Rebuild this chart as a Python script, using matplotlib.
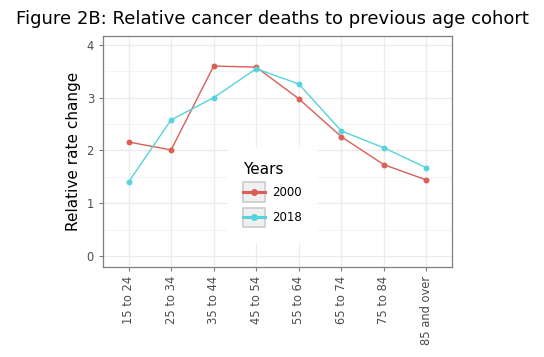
import matplotlib
matplotlib.use("Agg")
import matplotlib.pyplot as plt
from matplotlib.lines import Line2D
from matplotlib.patches import Rectangle
from matplotlib.legend_handler import HandlerBase
import numpy as np

categories = ["15 to 24", "25 to 34", "35 to 44", "45 to 54", "55 to 64",
              "65 to 74", "75 to 84", "85 and over"]
vals_2000 = [2.16, 2.01, 3.60, 3.58, 2.98, 2.26, 1.73, 1.44]
vals_2018 = [1.40, 2.58, 3.00, 3.55, 3.26, 2.37, 2.05, 1.67]
series_names = ["2000", "2018"]
colors = ["#db5f57", "#57d3db"]
yticks = [0, 1, 2, 3, 4]

fig = plt.figure(figsize=(5.44, 3.57), dpi=100)
ax = fig.add_axes([103/544, 1-267/357, (452-103)/544, (267-36)/357])

x = np.arange(len(categories))
for vals, c, name in zip([vals_2000, vals_2018], colors, series_names):
    ax.plot(x, vals, color=c, lw=1.0, zorder=3)
    ax.scatter(x, vals, color=c, s=18, zorder=4, linewidths=0)

ax.set_xlim(-0.6, 7.6)
ax.set_ylim(-0.21, 4.17)
ax.set_xticks(x)
ax.set_xticklabels(categories, rotation=90, fontsize=8.3, color="#4d4d4d")
ax.set_yticks(yticks)
ax.set_yticklabels([str(v) for v in yticks], fontsize=8.3, color="#4d4d4d")
ax.set_yticks(np.arange(0.5, 4.0, 1.0), minor=True)
ax.grid(True, which="major", color="#ebebeb", lw=0.9, zorder=0)
ax.grid(True, which="minor", axis="y", color="#f2f2f2", lw=0.6, zorder=0)
ax.set_axisbelow(True)
ax.tick_params(axis="both", which="major", color="#7f7f7f", length=3, width=0.8)
ax.tick_params(axis="both", which="minor", length=0)
for s in ax.spines.values():
    s.set_color("#7f7f7f")
    s.set_linewidth(0.9)
ax.set_ylabel("Relative rate change", fontsize=11)
fig.text(272/544, 1-19/357,
         "Figure 2B: Relative cancer deaths to previous age cohort",
         fontsize=13, ha="center", va="center")

class KeyHandler(HandlerBase):
    def __init__(self, color):
        super().__init__()
        self.color = color
    def create_artists(self, legend, orig_handle, xdescent, ydescent, width,
                       height, fontsize, trans):
        r = Rectangle((-xdescent, -ydescent), width, height,
                      facecolor="#f0f0f0", edgecolor="#cccccc", lw=1.2,
                      transform=trans)
        ym = -ydescent + height / 2
        l = Line2D([-xdescent, -xdescent + width], [ym, ym], color=self.color,
                   lw=2.2, transform=trans)
        m = Line2D([-xdescent + width / 2], [ym], marker="o", ms=4,
                   color=self.color, transform=trans, lw=0)
        return [r, l, m]

h1 = Line2D([], [], color=colors[0])
h2 = Line2D([], [], color=colors[1])
leg = ax.legend([h1, h2], series_names, title="Years",
                handler_map={h1: KeyHandler(colors[0]), h2: KeyHandler(colors[1])},
                loc="center", bbox_to_anchor=(0.485, 0.313), frameon=True,
                fontsize=8.5, title_fontsize=11, handlelength=1.85,
                handleheight=2.2, labelspacing=0.45, borderpad=1.3,
                handletextpad=0.6, fancybox=False)
leg._legend_box.align = "left"
leg.get_frame().set_edgecolor("none")
leg.get_frame().set_facecolor("white")
leg.get_frame().set_alpha(1)

fig.savefig("out.png", dpi=100)
